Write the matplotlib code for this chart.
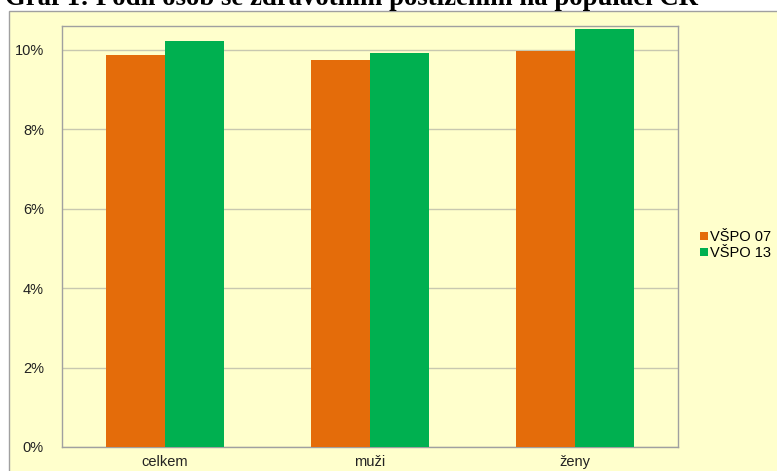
"""Graf 1: share of people with disability in the Czech population (VŠPO 07 vs 13)."""
import matplotlib
matplotlib.use("Agg")
import matplotlib.pyplot as plt
import numpy as np
from matplotlib.patches import Rectangle, Patch
from matplotlib.ticker import FuncFormatter

categories = ["celkem", "muži", "ženy"]
series_names = ["VŠPO 07", "VŠPO 13"]
vspo07 = [0.0986, 0.0974, 0.0997]
vspo13 = [0.1023, 0.0992, 0.1053]
yticks = [0.0, 0.02, 0.04, 0.06, 0.08, 0.10]

ORANGE = "#E46C0A"
GREEN = "#00B050"
BG = "#FFFFCC"
W, H = 777, 471

plt.rcParams["font.family"] = ["Liberation Sans", "DejaVu Sans"]

fig = plt.figure(figsize=(W / 100, H / 100), dpi=100)
fig.patch.set_facecolor("white")

# chart area (light yellow with gray border, runs off the right/bottom edge)
bg_ax = fig.add_axes([0, 0, 1, 1], zorder=-1)
bg_ax.set_axis_off()
bg_ax.set_xlim(0, W)
bg_ax.set_ylim(H, 0)
bg_ax.add_patch(Rectangle((9, 11), W, H, facecolor=BG,
                          edgecolor="#A0A0A0", linewidth=1.0))

# title sits partly above the top edge, as in the source screenshot
fig.text(5 / W, 1 - 5 / H,
         "Graf 1: Podíl osob se zdravotním postižením na populaci ČR",
         family=["Liberation Serif", "DejaVu Serif"], fontweight="bold",
         fontsize=19.3, va="baseline", ha="left")

ax = fig.add_axes([62 / W, (H - 447) / H, (678 - 62) / W, (447 - 26) / H])
ax.set_facecolor(BG)

x = np.arange(len(categories))
bw = 0.288
ax.bar(x - bw / 2, vspo07, width=bw, color=ORANGE, zorder=3)
ax.bar(x + bw / 2, vspo13, width=bw, color=GREEN, zorder=3)

ax.set_xlim(-0.5, len(categories) - 0.5)
ax.set_ylim(0, 0.106)
ax.set_yticks(yticks)
ax.yaxis.set_major_formatter(FuncFormatter(lambda v, p: f"{v * 100:.0f}%"))
ax.set_xticks(x)
ax.set_xticklabels(categories)
ax.tick_params(axis="both", length=0, colors="#222222")
ax.tick_params(axis="y", pad=13, labelsize=10.5)
ax.tick_params(axis="x", pad=6, labelsize=10.5)
ax.grid(axis="y", color="#C8C8B0", linewidth=1.0, zorder=0)
for s in ax.spines.values():
    s.set_color("#A0A0A0")
    s.set_linewidth(1.0)

handles = [Patch(facecolor=ORANGE), Patch(facecolor=GREEN)]
fig.legend(handles, series_names, loc="center left",
           bbox_to_anchor=(693 / W, 1 - 245 / H), frameon=False,
           fontsize=10.5, handlelength=0.5, handleheight=0.5,
           handletextpad=0.2, labelspacing=0.15, borderpad=0)

fig.savefig("out.png", dpi=100)
